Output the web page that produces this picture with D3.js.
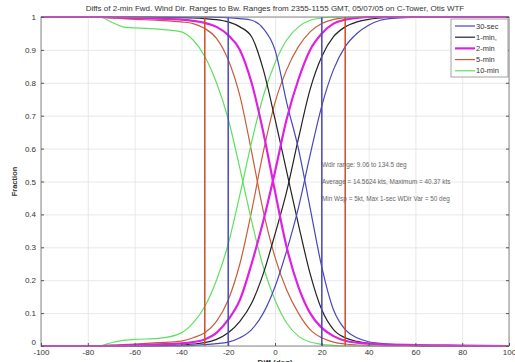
<!DOCTYPE html>
<html lang="en">
<head>
<meta charset="UTF-8" />
<title>Wind Dir Range Diffs</title>
<style>
  body { margin: 0; background: #fff; }
  svg { display: block; font-family: "Liberation Sans", Arial, sans-serif; }
  .grid line { stroke: #e2e2e2; stroke-width: 0.8; }
  .grid path { stroke: none; }
  .axis path { stroke: none; }
  .axis line { stroke: #555; }
  .axis text { fill: #333; font-size: 8px; }
</style>
</head>
<body>
<script src="https://cdn.jsdelivr.net/npm/d3@7"></script>
<script>
// x grid (deg) shared by every curve
var xDeg = [-100,-75,-70,-65,-60,-50,-40,-35,-30,-25,-20,-15,-10,-5,0,5,10,15,20,25,30,35,40,45,50,60,70,80,100];

// rising curves (fraction below diff) and falling curves (fraction above diff)
var rise30s = [0,0,0,0,0,0,0,0.002,0.004,0.007,0.012,0.025,0.05,0.1,0.18,0.29,0.42,0.58,0.73,0.84,0.91,0.95,0.975,0.99,0.996,0.999,1,1,1];
var fall30s = [1,1,1,1,1,1,1,1,1,0.999,0.998,0.995,0.99,0.965,0.9,0.74,0.6,0.42,0.24,0.11,0.05,0.025,0.013,0.008,0.005,0.003,0.002,0.001,0];

var rise1m = [0,0,0,0,0,0.001,0.003,0.006,0.01,0.02,0.04,0.075,0.13,0.22,0.34,0.47,0.63,0.78,0.88,0.94,0.97,0.985,0.993,0.997,1,1,1,1,1];
var fall1m = [1,1,1,1,1,0.999,0.998,0.997,0.995,0.992,0.985,0.97,0.94,0.84,0.69,0.53,0.37,0.22,0.11,0.05,0.025,0.014,0.008,0.005,0.003,0.001,0,0,0];

var rise2m = [0,0,0.001,0.002,0.003,0.005,0.008,0.012,0.02,0.04,0.08,0.14,0.25,0.38,0.53,0.69,0.81,0.9,0.95,0.98,0.992,0.997,1,1,1,1,1,1,1];
var fall2m = [1,1,0.999,0.998,0.997,0.995,0.992,0.988,0.982,0.97,0.945,0.9,0.8,0.65,0.47,0.3,0.18,0.1,0.055,0.03,0.016,0.01,0.007,0.005,0.004,0.003,0.002,0.001,0];

var rise5m = [0,0,0.002,0.004,0.006,0.01,0.015,0.025,0.04,0.075,0.14,0.25,0.41,0.59,0.74,0.84,0.91,0.955,0.98,0.993,0.998,1,1,1,1,1,1,1,1];
var fall5m = [1,1,0.997,0.995,0.993,0.99,0.985,0.98,0.965,0.935,0.87,0.76,0.59,0.41,0.27,0.17,0.1,0.05,0.025,0.012,0.006,0.003,0.001,0,0,0,0,0,0];

var rise10m = [0,0,0.01,0.017,0.02,0.023,0.04,0.07,0.12,0.2,0.31,0.46,0.62,0.76,0.86,0.93,0.97,0.99,0.997,1,1,1,1,1,1,1,1,1,1];
var fall10m = [1,1,0.985,0.97,0.967,0.963,0.955,0.93,0.88,0.8,0.69,0.54,0.38,0.24,0.14,0.07,0.03,0.012,0.005,0.002,0,0,0,0,0,0,0,0,0];

var seriesNames = ["30-sec", "1-min,", "2-min", "5-min", "10-min"];
var seriesColors = ["#4646c0", "#222222", "#e020e0", "#c85c3a", "#5fe05f"];
var seriesWidths = [1.2, 1.2, 2.2, 1.2, 1.2];
var riseData = [rise30s, rise1m, rise2m, rise5m, rise10m];
var fallData = [fall30s, fall1m, fall2m, fall5m, fall10m];

// limit lines (deg)
var limitDeg = [-30, 30, -20, 20];
var limitColors = ["#d24a28", "#d24a28", "#4a4abc", "#4a4abc"];

var xTicks = [-100,-80,-60,-40,-20,0,20,40,60,80,100];
var yTicks = [0,0.1,0.2,0.3,0.4,0.5,0.6,0.7,0.8,0.9,1];

var notes = ["Wdir range: 9.06 to 134.5 deg",
             "Average = 14.5624 kts, Maximum = 40.37 kts",
             "Min Wsp = 5kt, Max 1-sec WDir Var = 50 deg"];

var w = 515, h = 362;
var pLeft = 41, pRight = 509, pTop = 17, pBottom = 346;

var svg = d3.select("body").append("svg")
  .attr("width", w)
  .attr("height", h);

var xScale = d3.scaleLinear().domain([-100, 100]).range([pLeft, pRight]);
var yScale = d3.scaleLinear().domain([0, 1]).range([pBottom, pTop]);

// grid
svg.append("g").attr("class", "grid")
  .attr("transform", "translate(0," + pBottom + ")")
  .call(d3.axisBottom(xScale).tickValues(xTicks).tickSize(-(pBottom - pTop)).tickFormat(""));
svg.append("g").attr("class", "grid")
  .attr("transform", "translate(" + pLeft + ",0)")
  .call(d3.axisLeft(yScale).tickValues(yTicks).tickSize(-(pRight - pLeft)).tickFormat(""));

// curves
var line = d3.line()
  .x(function(d) { return xScale(d[0]); })
  .y(function(d) { return yScale(d[1]); })
  .curve(d3.curveMonotoneX);

function pairs(vals) {
  return xDeg.map(function(x, i) { return [x, vals[i]]; });
}

// thin ones first, thick magenta on top
[3, 4, 1, 0, 2].forEach(function(k) {
  [fallData[k], riseData[k]].forEach(function(vals) {
    svg.append("path")
      .datum(pairs(vals))
      .attr("d", line)
      .attr("fill", "none")
      .attr("stroke", seriesColors[k])
      .attr("stroke-width", seriesWidths[k])
      .attr("stroke-linejoin", "round");
  });
});

// vertical limit lines
svg.selectAll("line.limit")
  .data(limitDeg)
  .enter().append("line")
  .attr("class", "limit")
  .attr("x1", function(d) { return xScale(d); })
  .attr("x2", function(d) { return xScale(d); })
  .attr("y1", yScale(1))
  .attr("y2", yScale(0))
  .attr("stroke", function(d, i) { return limitColors[i]; })
  .attr("stroke-width", 1.5);

// axes box
svg.append("rect")
  .attr("x", pLeft).attr("y", pTop)
  .attr("width", pRight - pLeft).attr("height", pBottom - pTop)
  .attr("fill", "none").attr("stroke", "#8a8a8a").attr("stroke-width", 1);

svg.append("g").attr("class", "axis")
  .attr("transform", "translate(0," + pBottom + ")")
  .call(d3.axisBottom(xScale).tickValues(xTicks).tickSize(-3).tickPadding(3)
    .tickFormat(function(d) { return String(d); }));
var yAxisG = svg.append("g").attr("class", "axis")
  .attr("transform", "translate(" + pLeft + ",0)")
  .call(d3.axisLeft(yScale).tickValues(yTicks).tickSize(-3).tickPadding(5)
    .tickFormat(function(d) { return (d === 0 || d === 1) ? String(d) : d3.format(".1f")(d); }));
// the "0" label sits a little above the corner, clear of "-100"
yAxisG.selectAll(".tick text").filter(function(d) { return d === 0; })
  .attr("dy", "-0.2em");
svg.append("g").attr("class", "axis")
  .attr("transform", "translate(" + pRight + ",0)")
  .call(d3.axisRight(yScale).tickValues(yTicks).tickSize(-3).tickFormat(""));

// title and labels
svg.append("text")
  .attr("x", (pLeft + pRight) / 2).attr("y", 11)
  .attr("text-anchor", "middle")
  .style("font-size", "8px").style("fill", "#333")
  .text("Diffs of 2-min Fwd. Wind Dir. Ranges to Bw. Ranges from 2355-1155 GMT, 05/07/05 on C-Tower, Otis WTF");

svg.append("text")
  .attr("transform", "translate(17," + ((pTop + pBottom) / 2) + ") rotate(-90)")
  .attr("text-anchor", "middle")
  .style("font-size", "7.5px").style("font-weight", "bold").style("fill", "#333")
  .text("Fraction");

svg.append("text")
  .attr("x", (pLeft + pRight) / 2).attr("y", 365)
  .attr("text-anchor", "middle")
  .style("font-size", "8px").style("font-weight", "bold").style("fill", "#333")
  .text("Diff (deg)");

// notes
svg.selectAll("text.note")
  .data(notes)
  .enter().append("text")
  .attr("class", "note")
  .attr("x", 322)
  .attr("y", function(d, i) { return 167 + i * 17; })
  .style("font-size", "6.4px").style("fill", "#666")
  .text(function(d) { return d; });

// legend
var lg = svg.append("g");
lg.append("rect")
  .attr("x", 451).attr("y", 19).attr("width", 57).attr("height", 58)
  .attr("fill", "#fff").attr("stroke", "#8a8a8a").attr("stroke-width", 0.8);
seriesNames.forEach(function(name, i) {
  var yy = 26 + i * 11.2;
  lg.append("line")
    .attr("x1", 455).attr("x2", 475).attr("y1", yy).attr("y2", yy)
    .attr("stroke", seriesColors[i]).attr("stroke-width", seriesWidths[i]);
  lg.append("text")
    .attr("x", 476).attr("y", yy + 2.6)
    .style("font-size", "7.5px").style("fill", "#333")
    .text(name);
});
</script>
</body>
</html>
